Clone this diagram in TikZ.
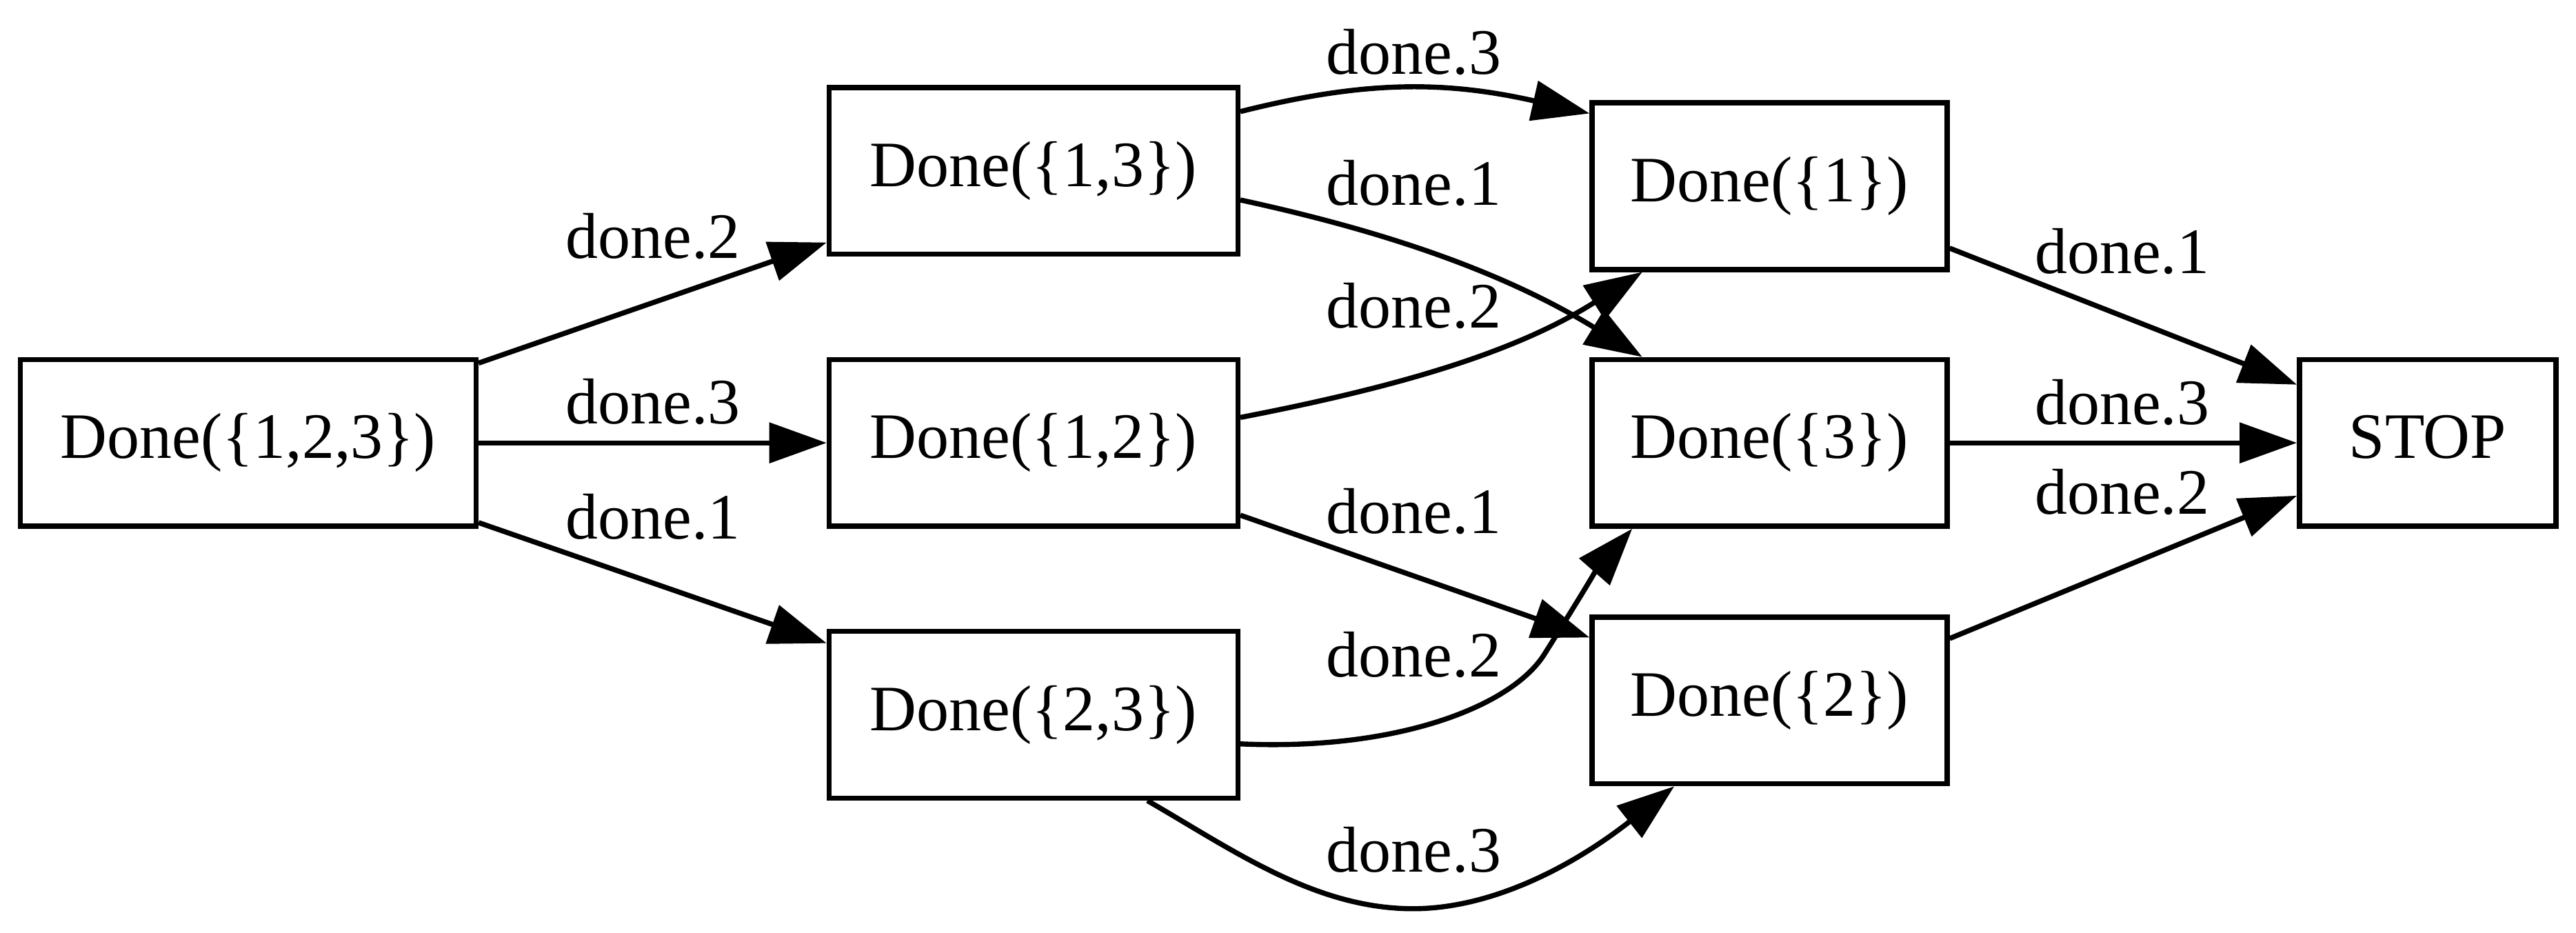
\documentclass[tikz,border=0pt]{standalone}
\usepackage{fontspec}
\setmainfont{Liberation Serif}
\usetikzlibrary{arrows.meta}
\begin{document}
\begin{tikzpicture}[x=0.355pt,y=-0.355pt,
  state/.style={draw, line width=1.1pt, minimum height=36pt, inner sep=0pt,
    font=\fontsize{14}{16}\selectfont, text height=9.7pt, text depth=3pt},
  wideA/.style={state, minimum width=98.5pt},
  wideB/.style={state, minimum width=88.3pt},
  wideC/.style={state, minimum width=76.7pt},
  wideD/.style={state, minimum width=55.4pt},
  lbl/.style={font=\fontsize{14}{16}\selectfont, inner sep=0pt, anchor=base},
  conn/.style={line width=1.1pt, -{Triangle[length=12.4pt,width=8.6pt]}}]
\fill[white] (0,0) rectangle (1567.8,567.4);
\useasboundingbox (0,0) rectangle (1567.8,567.4);
% nodes
\node[wideA] (n123) at (151,269.5) {Done(\{1,2,3\})};
\node[wideB] (n13) at (629,104) {Done(\{1,3\})};
\node[wideB] (n12) at (629,269.5) {Done(\{1,2\})};
\node[wideB] (n23) at (629,435) {Done(\{2,3\})};
\node[wideC] (n1) at (1077,113.3) {Done(\{1\})};
\node[wideC] (n3) at (1077,269.5) {Done(\{3\})};
\node[wideC] (n2) at (1077,426.3) {Done(\{2\})};
\node[wideD] (stop) at (1477.5,269.5) {STOP};
% edges
\draw[conn] (n123) -- (n13);
\draw[conn] (n123) -- (n12);
\draw[conn] (n123) -- (n23);
\draw[conn] (n13.16.6) .. controls (830,49) and (879,49) .. (n1.158.9);
\draw[conn] (n13.352) .. controls (835,139) and (911,163) .. (n3.146);
\draw[conn] (n12.7) .. controls (845,236.6) and (920,216) .. (n1.214);
\draw[conn] (n12) -- (n2);
\draw[conn] (n23.352.1) .. controls (850,457) and (920,430) .. (940,398)
   .. controls (952,379) and (973,345) .. (n3.212.5);
\draw[conn] (n23.323.6) .. controls (750,517) and (800,553) .. (860,553)
   .. controls (910,553) and (960,525) .. (n2.222.3);
\draw[conn] (n1.-19.8) -- (stop.156.2);
\draw[conn] (n3) -- (stop);
\draw[conn] (n2.19.7) -- (stop.202.8);
% labels
\node[lbl] (l1) at (397.5,157.2) {done.2};
\node[lbl] (l2) at (397.5,258) {done.3};
\node[lbl] (l3) at (397.5,328) {done.1};
\node[lbl] (l4) at (860.5,45) {done.3};
\node[lbl] (l5) at (860.5,125) {done.1};
\node[lbl] (l6) at (860.5,199.6) {done.2};
\node[lbl] (l7) at (860.5,324.5) {done.1};
\node[lbl] (l8) at (860.5,412) {done.2};
\node[lbl] (l9) at (860.5,530.6) {done.3};
\node[lbl] (l10) at (1291.5,166.2) {done.1};
\node[lbl] (l11) at (1291.5,258.3) {done.3};
\node[lbl] (l12) at (1291.5,313) {done.2};
\end{tikzpicture}
\end{document}
